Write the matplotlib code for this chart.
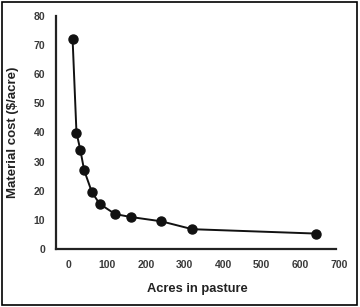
import matplotlib
matplotlib.use("Agg")
import matplotlib.pyplot as plt
from matplotlib.patches import Rectangle

acres = [10, 20, 30, 40, 60, 80, 120, 160, 240, 320, 640]
cost = [72, 40, 34, 27, 19.5, 15.5, 12, 11, 9.5, 6.8, 5.3]
xticks = [0, 100, 200, 300, 400, 500, 600, 700]
yticks = [0, 10, 20, 30, 40, 50, 60, 70, 80]

plt.rcParams['font.family'] = ['Liberation Sans', 'DejaVu Sans']

fig = plt.figure(figsize=(3.6, 3.07), dpi=100)
ax = fig.add_axes([56/360, 1-249/307, (339-56)/360, (249-16)/307])
ax.plot(acres, cost, color='#111111', lw=1.4, marker='o', markersize=6.5,
        markerfacecolor='#111111', markeredgecolor='#111111')
ax.set_xlim(-33, 700)
ax.set_ylim(0, 80)
ax.spines['bottom'].set_bounds(-33, 692)
ax.set_xticks(xticks)
ax.set_yticks(yticks)
for s in ['top', 'right']:
    ax.spines[s].set_visible(False)
for s in ['left', 'bottom']:
    ax.spines[s].set_linewidth(1.6)
    ax.spines[s].set_color('#222222')
ax.tick_params(length=0, labelsize=7.5, labelcolor='#3a3a3a', pad=8)
for lab in ax.get_xticklabels() + ax.get_yticklabels():
    lab.set_fontweight('bold')
ax.set_xlabel('Acres in pasture', fontsize=9.3, fontweight='bold', color='#222222', labelpad=9)
ax.set_ylabel('Material cost ($/acre)', fontsize=9.5, fontweight='bold', color='#222222', labelpad=10)
fig.patches.append(Rectangle((2/360, 2/307), 355/360, 303/307, transform=fig.transFigure,
                             fill=False, edgecolor='black', lw=1.2))
fig.savefig('out.png', dpi=100)
